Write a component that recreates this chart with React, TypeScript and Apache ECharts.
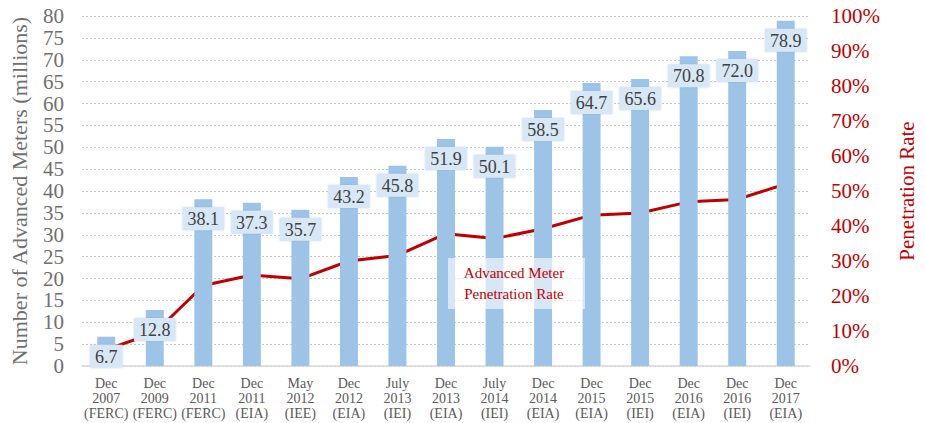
import React, { useEffect, useRef } from "react";
import * as echarts from "echarts";

const categories = [
  "Dec\n2007\n(FERC)",
  "Dec\n2009\n(FERC)",
  "Dec\n2011\n(FERC)",
  "Dec\n2011\n(EIA)",
  "May\n2012\n(IEE)",
  "Dec\n2012\n(EIA)",
  "July\n2013\n(IEI)",
  "Dec\n2013\n(EIA)",
  "July\n2014\n(IEI)",
  "Dec\n2014\n(EIA)",
  "Dec\n2015\n(EIA)",
  "Dec\n2015\n(IEI)",
  "Dec\n2016\n(EIA)",
  "Dec\n2016\n(IEI)",
  "Dec\n2017\n(EIA)",
];
const meters = [6.7, 12.8, 38.1, 37.3, 35.7, 43.2, 45.8, 51.9, 50.1, 58.5, 64.7, 65.6, 70.8, 72.0, 78.9];
const penetration = [4.7, 9.5, 23.0, 26.0, 24.9, 30.0, 31.6, 37.8, 36.4, 39.2, 43.1, 43.7, 46.9, 47.6, 52.0];
const leftTicks = { min: 0, max: 80, interval: 5 };
const rightTicks = { min: 0, max: 100, interval: 10 };

const SERIF = "Liberation Serif";
const RED = "#c00000";
const GRAY = "#6f6f6f";

export default function App() {
  const ref = useRef<HTMLDivElement>(null);
  useEffect(() => {
    if (!ref.current) return;
    const chart = echarts.init(ref.current, null, { renderer: "svg" });
    chart.setOption({
      animation: false,
      textStyle: { fontFamily: SERIF },
      grid: { left: 76.5, right: 113.5, top: 16, bottom: 57 },
      xAxis: {
        type: "category",
        data: categories,
        axisTick: { show: false },
        axisLine: { lineStyle: { color: "#d9d9d9", width: 1.5 } },
        axisLabel: {
          interval: 0,
          color: "#595959",
          fontFamily: SERIF,
          fontSize: 14,
          lineHeight: 15,
          margin: 10,
        },
      },
      yAxis: [
        {
          type: "value",
          min: leftTicks.min,
          max: leftTicks.max,
          interval: leftTicks.interval,
          name: "Number of Advanced Meters (millions)",
          nameLocation: "middle",
          nameGap: 52,
          nameRotate: 90,
          nameTextStyle: { color: GRAY, fontSize: 22, fontFamily: SERIF },
          axisLine: { show: false },
          axisTick: { show: false },
          axisLabel: { color: GRAY, fontSize: 21, fontFamily: SERIF, margin: 18 },
          splitLine: { lineStyle: { color: "#c8c8c8", type: [2, 2], width: 1 } },
        },
        {
          type: "value",
          min: rightTicks.min,
          max: rightTicks.max,
          interval: rightTicks.interval,
          position: "right",
          name: "Penetration Rate",
          nameLocation: "middle",
          nameGap: 86,
          nameRotate: 90,
          nameTextStyle: { color: RED, fontSize: 21, fontFamily: SERIF },
          axisLine: { show: false },
          axisTick: { show: false },
          axisLabel: { color: RED, fontSize: 21, fontFamily: SERIF, margin: 21, formatter: "{value}%" },
          splitLine: { show: false },
        },
      ],
      series: [
        {
          type: "bar",
          data: meters,
          barWidth: "37%",
          itemStyle: { color: "#9dc3e6" },
          label: {
            show: true,
            position: "insideTop",
            distance: 8,
            formatter: (p: any) => Number(p.value).toFixed(1),
            color: "#404040",
            fontFamily: SERIF,
            fontSize: 18,
            backgroundColor: "#d8e7f5",
            padding: [3, 5, 2, 5],
            shadowColor: "rgba(120,150,180,0.35)",
            shadowBlur: 2,
          },
          z: 2,
        },
        {
          type: "line",
          yAxisIndex: 1,
          data: penetration,
          symbol: "none",
          lineStyle: { color: RED, width: 3 },
          z: 1,
        },
      ],
      graphic: [
        {
          type: "rect",
          shape: { x: 448, y: 258, width: 137, height: 51 },
          style: { fill: "rgba(255,255,255,0.6)" },
          z: 10,
        },
        {
          type: "text",
          x: 514,
          y: 283,
          style: {
            text: "Advanced Meter\nPenetration Rate",
            fill: RED,
            font: `15px ${SERIF}`,
            align: "center",
            verticalAlign: "middle",
            lineHeight: 21,
          },
          z: 11,
        },
      ],
    });
    return () => chart.dispose();
  }, []);
  return <div ref={ref} style={{ width: 925, height: 423, position: "absolute", left: 0, top: 0 }} />;
}
